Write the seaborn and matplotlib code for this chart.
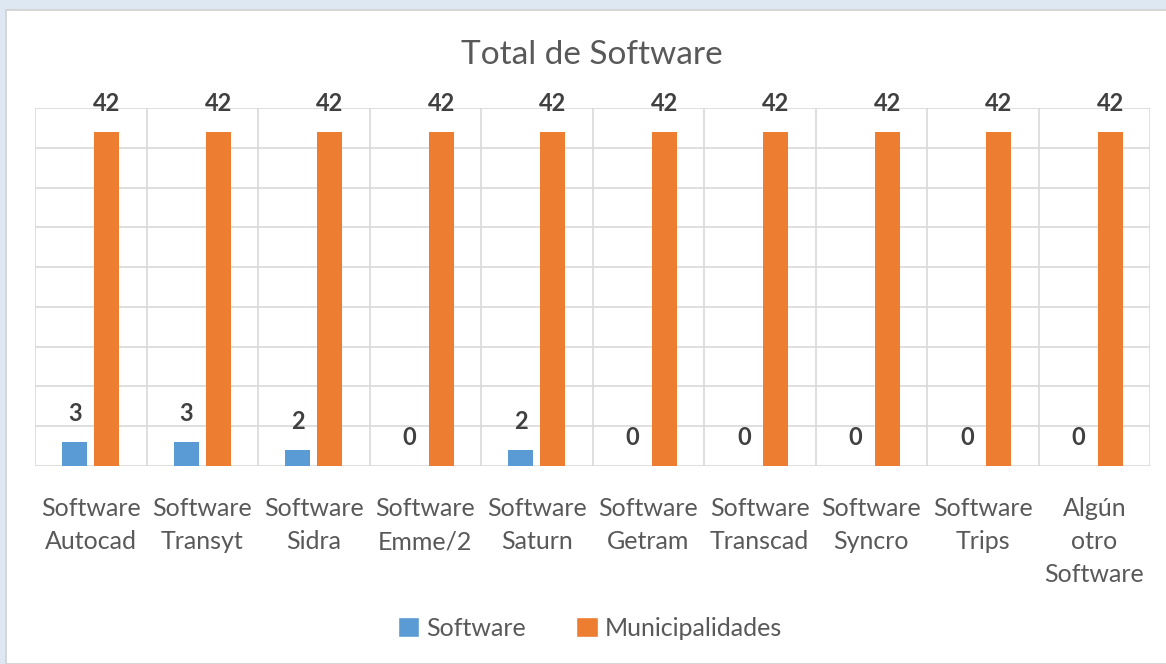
import seaborn as sns
import matplotlib.pyplot as plt
import pandas as pd
from matplotlib.patches import Rectangle

# data
categories = ["Software\nAutocad", "Software\nTransyt", "Software\nSidra", "Software\nEmme/2",
              "Software\nSaturn", "Software\nGetram", "Software\nTranscad", "Software\nSyncro",
              "Software\nTrips", "Algún\notro\nSoftware"]
software = [3, 3, 2, 0, 2, 0, 0, 0, 0, 0]
municipalidades = [42, 42, 42, 42, 42, 42, 42, 42, 42, 42]
series = ["Software", "Municipalidades"]
colors = ["#5b9bd5", "#ed7d31"]

df = pd.DataFrame({
    "cat": categories * 2,
    "serie": [series[0]] * len(categories) + [series[1]] * len(categories),
    "valor": software + municipalidades,
})

sns.set_style("white")
plt.rcParams["font.family"] = ["Lato", "DejaVu Sans"]

W, H = 1166, 664
fig = plt.figure(figsize=(W / 100, H / 100), dpi=100, facecolor="#dee8f3")
# white chart area with a thin border
fig.patches.append(Rectangle((6 / W, 0), 1, 1 - 10 / H, transform=fig.transFigure,
                             facecolor="white", edgecolor="#d0d0d0", linewidth=1.2, zorder=-5))

ax = fig.add_axes([35 / W, 1 - 466 / H, 1115 / W, 358 / H])
ax.set_facecolor("none")

sns.barplot(data=df, x="cat", y="valor", hue="serie", palette=colors, ax=ax,
            width=0.57, gap=0.21, saturation=1, edgecolor="none", legend=False)

ax.set_xlim(-0.5, len(categories) - 0.5)
ax.set_ylim(0, 45)
ax.set_yticks(range(0, 46, 5))
ax.set_yticklabels([])
ax.set_xticks([i - 0.5 for i in range(len(categories) + 1)], minor=True)
ax.grid(True, axis="y", color="#d9d9d9", linewidth=1.2)
ax.grid(True, axis="x", which="minor", color="#d9d9d9", linewidth=1.2)
ax.grid(False, axis="x", which="major")
ax.set_axisbelow(True)
for s in ax.spines.values():
    s.set_visible(False)
ax.tick_params(axis="both", length=0)
ax.tick_params(axis="x", labelsize=18, labelcolor="#595959", pad=22)
for t in ax.get_xticklabels():
    t.set_linespacing(1.55)
ax.set_xlabel("")
ax.set_ylabel("")

for cont in ax.containers:
    ax.bar_label(cont, padding=12, fontsize=17, fontweight="bold", color="#404040")

fig.text(592 / W, 1 - 55 / H, "Total de Software", ha="center", va="center",
         fontsize=24, color="#595959")

handles = [Rectangle((0, 0), 1, 1, facecolor=c) for c in colors]
fig.legend(handles, series, loc="center", bbox_to_anchor=(590 / W, 1 - 628 / H),
           ncol=2, frameon=False, fontsize=18, labelcolor="#595959",
           handlelength=0.85, handleheight=0.85, handletextpad=0.3, columnspacing=2.0)

fig.savefig("out.png", dpi=100, facecolor=fig.get_facecolor())
